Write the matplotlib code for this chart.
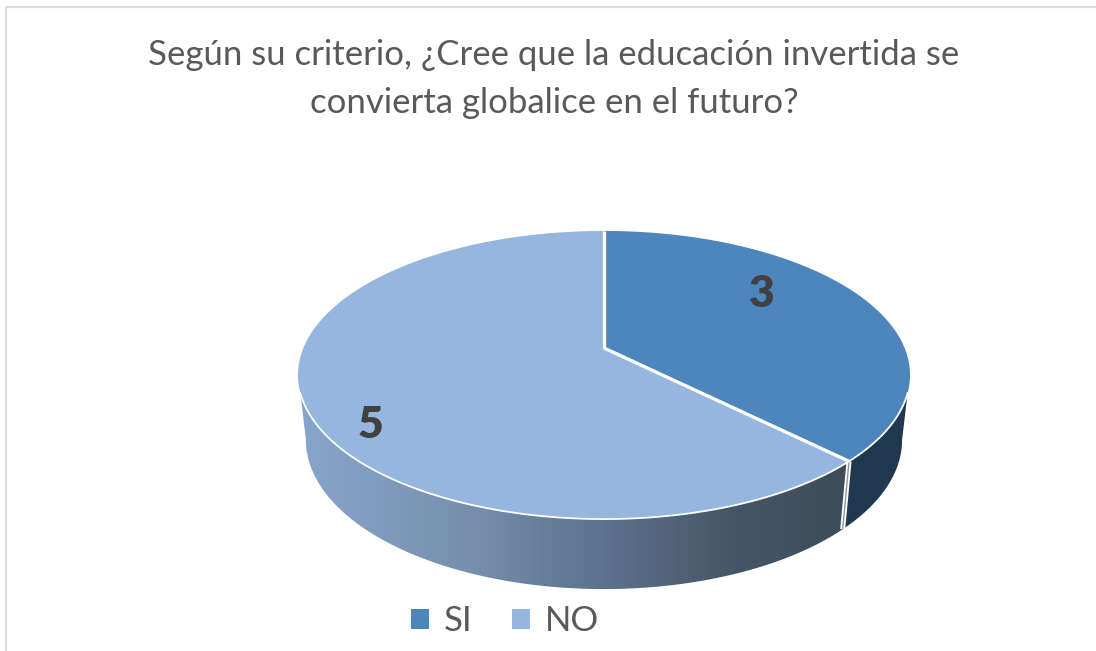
# -*- coding: utf-8 -*-
# pie 3D drawn by hand with a perspective disc, matplotlib has no 3D pie
import numpy as np
from matplotlib import pyplot as plt
from matplotlib.colors import LinearSegmentedColormap
from matplotlib.patches import Patch, Polygon, Rectangle

categories = ['SI', 'NO']
values = [3, 5]
slice_colors = ['#4C86BC', '#95B6DE']
title = 'Según su criterio, ¿Cree que la educación invertida se\nconvierta globalice en el futuro?'

plt.rcParams['font.family'] = ['Lato', 'DejaVu Sans']

W, H = 1096, 651
fig = plt.figure(figsize=(W / 100, H / 100), dpi=100)
ax = fig.add_axes([0, 0, 1, 1])

# perspective of the disc
cx = 604
k = 0.1875
A = 300.6
B = 139.0


def top_rim(theta, r=1.0):
    u = r * np.sin(theta)
    v = r * np.cos(theta)
    return cx + A * u / (1 + k * v), 348 - B * v / (1 + k * v)


def low_rim(theta):
    u = np.sin(theta)
    v = np.cos(theta)
    return cx + 0.974 * A * u / (1 + k * v), 412 - 1.035 * B * v / (1 + k * v)


fracs = np.cumsum([0] + values) / np.sum(values)
angles = 2 * np.pi * fracs

# where the wall starts on the top rim (y=393) and on the lower rim (widest point)
grid = np.linspace(np.pi / 2, np.pi, 2000)
t_top = grid[np.argmin(np.abs(top_rim(grid)[1] - 393))]
t_low = np.pi / 2 + np.arcsin(k)

# side walls, SI is almost flat, NO has the gradient
split = angles[1]
x1, y1 = top_rim(np.linspace(t_top, split, 300))
x2, y2 = low_rim(np.linspace(t_low, split, 300))
pts = np.vstack([np.column_stack([x1, y1]), np.column_stack([x2, y2])[::-1]])
ax.add_patch(Polygon(pts, closed=True, fc='#1F384F', ec='none', zorder=2))

x1, y1 = top_rim(np.linspace(split, 2 * np.pi - t_top, 400))
x2, y2 = low_rim(np.linspace(split, 2 * np.pi - t_low, 400))
pts = np.vstack([np.column_stack([x1, y1]), np.column_stack([x2, y2])[::-1]])
wall = Polygon(pts, closed=True, fc='none', ec='none', zorder=2)
ax.add_patch(wall)
cmap = LinearSegmentedColormap.from_list(
    'wall', [(0, '#87A6CB'), (0.3, '#7890AE'), (0.55, '#5C728E'), (0.8, '#465565'), (1, '#3E4B59')])
im = ax.imshow(np.linspace(0, 1, 256).reshape(1, -1), cmap=cmap, aspect='auto',
               extent=[298, 850, 600, 370], zorder=2)
im.set_clip_path(wall)

# seam between the two walls
x1, y1 = top_rim(split)
x2, y2 = low_rim(split)
ax.plot([x1, x2], [y1, y2], color='white', lw=3.6, solid_capstyle='butt', zorder=3)
ax.plot([x1, x2], [y1, y2], color='#8F979E', lw=1.0, solid_capstyle='butt', zorder=3)

# top faces
for i in range(len(values)):
    t = np.linspace(angles[i], angles[i + 1], 300)
    x, y = top_rim(t)
    pts = np.vstack([[cx, 348], np.column_stack([x, y])])
    ax.add_patch(Polygon(pts, closed=True, fc=slice_colors[i], ec='none', zorder=4))

# white rim on the front and white radii
x, y = top_rim(np.linspace(t_top, 2 * np.pi - t_top, 800))
ax.plot(x, y, color='white', lw=1.3, zorder=5)
for a in angles[:2]:
    x, y = top_rim(a)
    ax.plot([cx, x], [348, y], color='white', lw=2.4, solid_capstyle='butt', zorder=5)

# data labels
ax.text(762, 294, str(values[0]), fontsize=32, fontweight='heavy', color='#404040',
        ha='center', va='center', zorder=6)
ax.text(370, 425, str(values[1]), fontsize=32, fontweight='heavy', color='#404040',
        ha='center', va='center', zorder=6)

ax.text(554, 79, title, fontsize=25, color='#595959', ha='center', va='center',
        linespacing=1.6, zorder=6)

# chart frame, only top and left are in the crop
ax.add_patch(Rectangle((6, 7), W + 20, H + 20, fc='none', ec='#DDDDDD', lw=1.6, zorder=1))

ax.set_xlim(0, W)
ax.set_ylim(H, 0)
ax.axis('off')

handles = [Patch(fc=c, ec='none') for c in slice_colors]
ax.legend(handles, categories, loc='center', bbox_to_anchor=(505 / W, 1 - 621 / H), ncol=2,
          frameon=False, fontsize=25, labelcolor='#595959', handlelength=0.52, handleheight=0.52,
          handletextpad=0.43, columnspacing=1.15, borderpad=0)

fig.savefig('out.png', dpi=100)
